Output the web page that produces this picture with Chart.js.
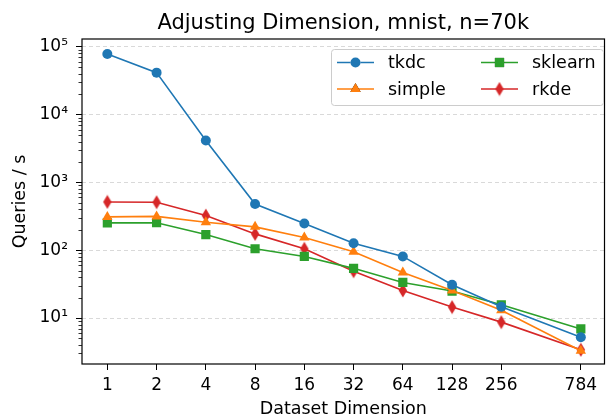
<!DOCTYPE html>
<html>
<head>
<meta charset="utf-8">
<script src="https://cdn.jsdelivr.net/npm/chart.js@4/dist/chart.umd.min.js"></script>
<style>
  html, body { margin: 0; padding: 0; background: #fff; }
  #wrap { width: 611px; height: 418px; }
</style>
</head>
<body>
<div id="wrap"><canvas id="grafico" width="611" height="418"></canvas></div>
<script>
// datos
const dims = [1, 2, 4, 8, 16, 32, 64, 128, 256, 784];
const tkdc = [78000, 41500, 4150, 480, 247, 127, 81, 31, 14.7, 5.2];
const simple = [310, 315, 258, 221, 154, 95, 47, 25.5, 13, 3.3];
const sklearn = [253, 254, 170, 105, 81, 54, 33.5, 25, 15.7, 6.9];
const rkde = [515, 510, 324, 174, 105, 49, 25.5, 14.5, 8.7, 3.4];
const yTicks = [10, 100, 1000, 10000, 100000];
const titulo = 'Adjusting Dimension, mnist, n=70k';

const FONT = "'DejaVu Sans', sans-serif";

// diamante delgado (marker 'd' de matplotlib)
function thinDiamond(color) {
    const c = document.createElement('canvas');
    c.width = 10; c.height = 15;
    const g = c.getContext('2d');
    g.fillStyle = color;
    g.beginPath();
    g.moveTo(5, 0.5); g.lineTo(9.2, 7.5); g.lineTo(5, 14.5); g.lineTo(0.8, 7.5);
    g.closePath();
    g.fill();
    return c;
}

const series = [
    { label: 'tkdc', data: tkdc, color: '#1f77b4', style: 'circle', radius: 5 },
    { label: 'simple', data: simple, color: '#ff7f0e', style: 'triangle', radius: 6 },
    { label: 'sklearn', data: sklearn, color: '#2ca02c', style: 'rect', radius: 6.5 },
    { label: 'rkde', data: rkde, color: '#d62728', style: thinDiamond('#d62728'), radius: 5 }
];

const datasets = series.map(s => ({
    label: s.label,
    data: dims.map((d, i) => ({ x: d, y: s.data[i] })),
    borderColor: s.color,
    backgroundColor: s.color,
    borderWidth: 1.6,
    pointStyle: s.style,
    pointRadius: s.radius,
    pointBorderWidth: 0,
    pointBackgroundColor: s.color,
    tension: 0
}));

function sup(n) {
    const m = { '0': '⁰', '1': '¹', '2': '²', '3': '³', '4': '⁴', '5': '⁵', '6': '⁶', '7': '⁷', '8': '⁸', '9': '⁹' };
    return String(n).split('').map(c => m[c]).join('');
}

// titulo centrado sobre el area, marco, ticks menores y leyenda tipo matplotlib
const extras = {
    id: 'extras',
    afterDraw(chart) {
        const ctx = chart.ctx;
        const a = chart.chartArea;
        const y = chart.scales.y;
        ctx.save();
        // titulo
        ctx.fillStyle = '#000';
        ctx.font = '21px ' + FONT;
        ctx.textAlign = 'center';
        ctx.textBaseline = 'alphabetic';
        ctx.fillText(titulo, (a.left + a.right) / 2, 29.3);
        ctx.textAlign = 'left';

        // ticks menores en el eje y
        ctx.strokeStyle = '#000';
        ctx.lineWidth = 0.8;
        for (let e = 0; e <= 5; e++) {
            for (let k = 2; k <= 9; k++) {
                const v = k * Math.pow(10, e);
                if (v < y.min || v > y.max) continue;
                const py = Math.round(y.getPixelForValue(v)) + 0.5;
                ctx.beginPath();
                ctx.moveTo(a.left - 3.5, py);
                ctx.lineTo(a.left, py);
                ctx.stroke();
            }
        }
        // marco
        ctx.lineWidth = 1.2;
        ctx.strokeRect(a.left, a.top, a.right - a.left, a.bottom - a.top);

        // leyenda
        const bx = 331, by = 49, bw = 272, bh = 56;
        ctx.fillStyle = 'rgba(255,255,255,0.85)';
        ctx.strokeStyle = '#cccccc';
        ctx.lineWidth = 1;
        ctx.beginPath();
        ctx.roundRect(bx + 0.5, by + 0.5, bw, bh, 3);
        ctx.fill();
        ctx.stroke();
        const pos = [
            { x: 337, y: 62.5 }, { x: 337, y: 89 },
            { x: 481, y: 62.5 }, { x: 481, y: 89 }
        ];
        ctx.font = '17.5px ' + FONT;
        ctx.textBaseline = 'middle';
        chart.data.datasets.forEach((ds, i) => {
            const p = pos[i];
            ctx.strokeStyle = ds.borderColor;
            ctx.lineWidth = ds.borderWidth;
            ctx.beginPath();
            ctx.moveTo(p.x, p.y);
            ctx.lineTo(p.x + 37, p.y);
            ctx.stroke();
            Chart.helpers.drawPoint(ctx, {
                pointStyle: ds.pointStyle,
                radius: ds.pointRadius,
                rotation: 0,
                borderWidth: 0
            }, p.x + 18.5, p.y);
            ctx.fillStyle = ds.borderColor;
            ctx.fill();
            ctx.fillStyle = '#000';
            ctx.fillText(ds.label, p.x + 51, p.y + 1);
        });
        ctx.restore();
    }
};

const chart = new Chart(document.getElementById('grafico'), {
    type: 'line',
    data: { datasets: datasets },
    plugins: [extras],
    options: {
        responsive: false,
        animation: false,
        layout: { padding: { left: 0, right: 2, top: 39, bottom: 0 } },
        plugins: {
            legend: { display: false },
            tooltip: { enabled: false },
            title: { display: false }
        },
        scales: {
            x: {
                type: 'logarithmic',
                min: 0.716,
                max: 1094,
                afterBuildTicks: s => { s.ticks = dims.map(v => ({ value: v })); },
                afterFit: s => { s.height = 54; },
                ticks: {
                    color: '#000',
                    font: { family: FONT, size: 17 },
                    maxRotation: 0,
                    autoSkip: false,
                    padding: 5,
                    callback: v => String(v)
                },
                grid: { drawOnChartArea: false, drawTicks: true, tickLength: 6, tickColor: '#000', tickWidth: 1 },
                border: { display: false },
                title: {
                    display: true,
                    text: 'Dataset Dimension',
                    color: '#000',
                    font: { family: FONT, size: 17.5, lineHeight: 1 },
                    padding: { top: 0, bottom: 0 }
                }
            },
            y: {
                type: 'logarithmic',
                min: 2.1,
                max: 130000,
                afterBuildTicks: s => { s.ticks = yTicks.map(v => ({ value: v })); },
                afterFit: s => { s.width = 82; },
                ticks: {
                    color: '#000',
                    font: { family: FONT, size: 17 },
                    padding: 8,
                    callback: v => '10' + sup(Math.round(Math.log10(v)))
                },
                grid: { color: '#d9d9d9', lineWidth: 1, tickLength: 6, tickColor: '#000', tickWidth: 1 },
                border: { display: false, dash: [4, 3] },
                title: {
                    display: true,
                    text: 'Queries / s',
                    color: '#000',
                    font: { family: FONT, size: 17.5 },
                    padding: { top: 10, bottom: 0 }
                }
            }
        }
    }
});
</script>
</body>
</html>
